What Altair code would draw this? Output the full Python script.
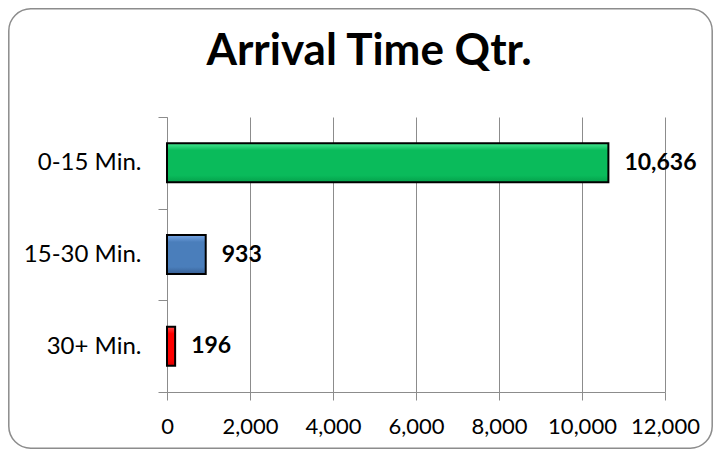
import altair as alt
import pandas as pd

categories = ["0-15 Min.", "15-30 Min.", "30+ Min."]
values = [10636, 933, 196]
x_ticks = [0, 2000, 4000, 6000, 8000, 10000, 12000]
title_text = "Arrival Time Qtr."

df = pd.DataFrame({"cat": categories, "val": values})

FONT = "Lato"
W, H = 498, 275
PAD = {"left": 159, "top": 109, "right": 48, "bottom": 57}

def grad(top, mid, bottom):
    return alt.Gradient(
        gradient="linear", x1=0, y1=0, x2=0, y2=1,
        stops=[alt.GradientStop(color=top, offset=0),
               alt.GradientStop(color=mid, offset=0.18),
               alt.GradientStop(color=mid, offset=0.82),
               alt.GradientStop(color=bottom, offset=1)])

fills = {
    "0-15 Min.": grad("#45e690", "#0abb5b", "#04a04b"),
    "15-30 Min.": grad("#7aa8e6", "#4a7ebb", "#375f94"),
    "30+ Min.": grad("#ff4a4a", "#ff0000", "#d80000"),
}

y_enc = alt.Y("cat:N", sort=categories, title=None,
              scale=alt.Scale(paddingInner=0, paddingOuter=0),
              axis=alt.Axis(tickBand="extent", grid=False, domainColor="#8c8c8c",
                            tickColor="#8c8c8c", tickSize=9, labelPadding=17,
                            labelFont=FONT, labelFontSize=24, labelColor="#000000"))
x_enc = alt.X("val:Q", title=None,
              scale=alt.Scale(domain=[0, 12000], nice=False),
              axis=alt.Axis(values=x_ticks, format=",.0f", grid=True, gridColor="#8c8c8c",
                            gridWidth=1, domainColor="#8c8c8c", tickColor="#8c8c8c",
                            tickSize=8, labelPadding=16, labelFont=FONT,
                            labelFontSize=22, labelColor="#000000",
                            labelOverlap=False, labelFlush=False))

base = alt.Chart(df)

bars = [
    base.transform_filter(alt.datum.cat == c)
    .mark_bar(fill=fills[c], stroke="#000000", strokeWidth=2, size=39)
    .encode(x=x_enc, y=y_enc)
    for c in categories
]

labels = base.mark_text(align="left", baseline="middle", dx=16, font=FONT,
                        fontSize=23, fontWeight="bold", color="#000000").encode(
    x=x_enc, y=y_enc, text=alt.Text("val:Q", format=",.0f")
)

title = alt.Chart(pd.DataFrame({"t": [title_text]})).mark_text(
    font=FONT, fontSize=44, fontWeight="bold", color="#000000",
    align="center", baseline="alphabetic"
).encode(x=alt.value(202), y=alt.value(-52), text="t:N")

border = alt.Chart(pd.DataFrame({"b": [0]})).mark_rect(
    fill="transparent", stroke="#8c8c8c", strokeWidth=1.5, cornerRadius=22
).encode(x=alt.value(-158.2), x2=alt.value(545.2),
         y=alt.value(-108.2), y2=alt.value(331.2))

chart = alt.layer(border, *bars, labels, title).properties(
    width=W, height=H, padding=PAD,
    autosize=alt.AutoSizeParams(type="none"),
    background="#ffffff",
).configure_view(strokeWidth=0)

chart.save("out.html", embed_options={"renderer": "svg", "actions": False})
